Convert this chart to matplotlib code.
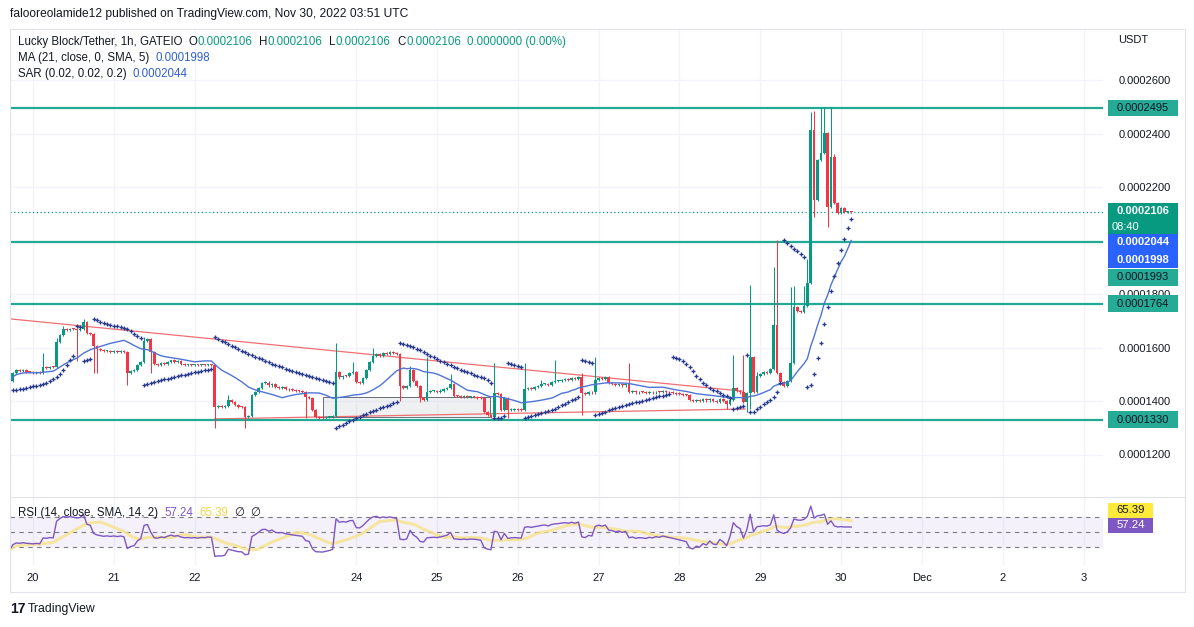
import numpy as np
import pandas as pd
import matplotlib
matplotlib.use("Agg")
import matplotlib.pyplot as plt
from matplotlib.patches import Rectangle

plt.rcParams['font.family'] = ['Liberation Sans', 'DejaVu Sans']

W, H = 1194, 627

# ---------------- data (prices in units of 0.000001 USDT) ----------------
first_hour = -7            # hours after Nov 20 00:00 UTC of the first candle
first_open = 145.5
closes = [
    147.5, 150.5, 151.5, 151.2, 151.5, 151.0, 150.8,                      # -7..-1
    150.5, 150.7, 150.4, 152.7, 152.5, 152.8, 152.6, 162.0, 164.7, 166.8,  # 0..9
    166.5, 167.0, 166.8, 166.5, 166.9, 169.5, 165.5, 165.0, 160.5, 159.5,  # 10..19
    159.0, 158.6, 158.8, 158.5, 158.7, 158.4, 158.6, 158.3, 150.5, 151.3,  # 20..29
    151.6, 153.5, 154.5, 162.5, 163.2, 158.3, 153.8, 153.5, 154.2, 153.8,  # 30..39
    154.6, 155.2, 154.5, 154.8, 153.9, 153.5, 153.6, 153.4, 153.5, 153.3,  # 40..49
    153.5, 153.4, 153.6, 153.5, 137.8, 138.0, 137.9, 138.2, 140.4, 139.5,  # 50..59
    138.6, 137.8, 137.6, 134.2, 134.4, 142.2, 143.4, 144.9, 146.7, 146.9,  # 60..69
    145.8, 146.5, 145.2, 145.0, 145.1, 144.5, 144.3, 144.0, 143.8, 143.6,  # 70..79
    143.4, 141.5, 141.2, 136.6, 134.0, 133.8, 133.7, 133.9, 134.1, 134.4,  # 80..89
    150.8, 148.8, 149.5, 149.2, 150.5, 150.8, 147.0, 146.8, 148.6, 151.5,  # 90..99
    154.6, 157.0, 157.5, 156.8, 157.8, 157.5, 158.2, 157.9, 157.6, 145.5,  # 100..109
    145.0, 145.5, 151.5, 147.5, 145.5, 141.1, 140.4, 143.4, 143.6, 143.8,  # 110..119
    143.5, 143.9, 144.4, 144.9, 146.5, 142.0, 141.8, 141.5, 141.7, 141.4,  # 120..129
    141.6, 141.5, 141.3, 141.0, 136.0, 134.8, 134.2, 143.0, 142.5, 136.6,  # 130..139
    141.0, 136.5, 136.8, 137.0, 136.8, 136.6, 144.5, 145.0, 144.6, 145.2,  # 140..149
    145.6, 146.2, 146.5, 146.0, 147.0, 147.4, 147.6, 147.9, 148.2, 148.0,  # 150..159
    148.5, 148.2, 148.8, 143.0, 142.6, 143.5, 143.2, 147.9, 148.6, 148.2,  # 160..169
    148.8, 146.7, 146.5, 146.0, 146.3, 145.8, 146.2, 143.5, 143.8, 143.2,  # 170..179
    143.4, 143.3, 143.1, 143.4, 143.2, 143.5, 143.3, 143.6, 143.4, 143.2,  # 180..189
    143.0, 142.8, 142.6, 142.4, 142.2, 140.4, 140.0, 140.4, 140.1, 140.6,  # 190..199
    140.2, 140.8, 140.0, 139.8, 140.6, 140.0, 138.8, 140.5, 144.9, 143.8,  # 200..209
    143.2, 139.6, 143.0, 156.5, 143.5, 149.5, 150.2, 150.8, 150.5, 152.0,  # 210..219
    168.4, 150.5, 147.2, 145.5, 147.5, 154.2, 175.1, 173.5, 173.2, 175.5,  # 220..229
    184.1, 241.3, 215.1, 230.1, 232.7, 240.2, 212.5, 231.2, 214.0, 210.3,  # 230..239
    212.0, 210.6, 210.8, 210.6,                                            # 240..243
]
wick_highs = {3: 158.0, 7: 163.5, 9: 168.0, 15: 170.5, 33: 163.9, 41: 155.5,
              58: 142.2, 90: 161.7, 95: 154.6, 101: 159.8, 112: 153.0,
              117: 156.4, 124: 150.0, 137: 154.2, 146: 154.2, 151: 148.0,
              155: 155.3, 163: 150.5, 167: 156.4, 177: 154.2, 208: 157.2,
              211: 157.2, 213: 183.4, 215: 151.0, 220: 190.1, 221: 200.2,
              225: 182.6, 226: 183.0, 229: 183.0, 230: 193.0, 231: 248.0,
              232: 248.3, 234: 249.9, 235: 249.9, 237: 249.9, 238: 232.5}
wick_lows = {-7: 144.0, 13: 155.0, 18: 150.5, 19: 150.5, 28: 146.0, 35: 150.5,
             54: 129.9, 63: 129.9, 81: 133.6, 109: 140.0, 115: 139.6,
             141: 133.5, 163: 134.8, 206: 137.0, 212: 135.9, 213: 137.0,
             232: 208.8, 236: 205.0}

levels = [249.5, 199.3, 176.4, 133.0]
level_texts = ['0.0002495', '0.0001993', '0.0001764', '0.0001330']
last_price = 210.6
last_price_text = '0.0002106'
countdown_text = '08:40'
sar_value, sar_value_text = 204.4, '0.0002044'
ma_value, ma_value_text = 199.8, '0.0001998'
upper_trend_t, upper_trend_p = [-6.8, 210.6], [170.7, 143.7]
lower_trend_t, lower_trend_p = [54.0, 211.5], [133.3, 137.0]
box_t, box_p = [86.1, 135.7], [134.0, 141.5]

price_ticks = [120, 140, 160, 180, 220, 240, 260]
price_grid = [120, 140, 160, 180, 200, 220, 240, 260]
day_labels = ['20', '21', '22', '24', '25', '26', '27', '28', '29', '30', 'Dec', '2', '3']
day_hours = [0, 24, 48, 96, 120, 144, 168, 192, 216, 240, 264, 288, 312]
rsi_levels = [70, 50, 30]
rsi_values = [57.24, 65.39]
rsi_texts = ['57.24', '65.39']
rsi_seed_gain, rsi_seed_loss = 0.4, 1.6   # averages carried in from before the window

# ---------------- derived series ----------------
n = len(closes)
hours = first_hour + np.arange(n)
c = np.array(closes, float)
o = np.empty(n); o[0] = first_open; o[1:] = c[:-1]
hi = np.maximum(o, c) + 0.4
lo = np.minimum(o, c) - 0.4
for k, v in wick_highs.items():
    hi[k - first_hour] = v
for k, v in wick_lows.items():
    lo[k - first_hour] = v

ma = pd.Series(c).rolling(21, min_periods=1).mean().values


def parabolic_sar(hi, lo, af0=0.02, step=0.02, afmax=0.2):
    m = len(hi)
    out = np.full(m, np.nan)
    up = False
    s = hi[0]
    ep = lo[0]
    af = af0
    out[0] = s
    for i in range(1, m):
        s = s + af * (ep - s)
        if up:
            s = min(s, lo[i - 1], lo[max(i - 2, 0)])
            if lo[i] < s:
                up = False; s = ep; ep = lo[i]; af = af0
            elif hi[i] > ep:
                ep = hi[i]; af = min(af + step, afmax)
        else:
            s = max(s, hi[i - 1], hi[max(i - 2, 0)])
            if hi[i] > s:
                up = True; s = ep; ep = hi[i]; af = af0
            elif lo[i] < ep:
                ep = lo[i]; af = min(af + step, afmax)
        out[i] = s
    return out


sar = parabolic_sar(hi, lo)

# RSI (Wilder) with carried-in averages
ag, al = rsi_seed_gain, rsi_seed_loss
prev = first_open
rsi = np.empty(n)
for i in range(n):
    d = c[i] - prev
    prev = c[i]
    ag = (ag * 13 + max(d, 0)) / 14
    al = (al * 13 + max(-d, 0)) / 14
    rsi[i] = 100 - 100 / (1 + ag / al) if al > 0 else 100
rsi_ma = pd.Series(rsi).rolling(14, min_periods=1).mean().values

# ---------------- figure ----------------
fig = plt.figure(figsize=(W / 100, H / 100), dpi=100)
fig.patch.set_facecolor('white')

def fx(px):
    return px / W

def fy(py):
    return 1 - py / H

L, R = 10, 1103
TOP, MID, BOT = 30, 497, 565
ax = fig.add_axes([fx(L), fy(MID), fx(R - L), (MID - TOP) / H])
axr = fig.add_axes([fx(L), fy(BOT), fx(R - L), (BOT - MID) / H], sharex=ax)

px_per_hour = 3.367
x0 = (L - 33) / px_per_hour
x1 = (R - 33) / px_per_hour
ax.set_xlim(x0, x1)
ax.set_ylim(260 - (MID - 80) / 2.675, 260 + (80 - TOP) / 2.675)
axr.set_ylim(30 - (BOT - 547.3) / 0.75, 70 + (517.3 - MID) / 0.75)

GRID = '#f0f3fa'
DARK = '#131722'
TEAL = '#089981'
LINE_TEAL = '#22ab94'
RED = '#f23645'

for a in (ax, axr):
    for sp in a.spines.values():
        sp.set_visible(False)
    for h_ in day_hours:
        a.axvline(h_, color=GRID, lw=0.9, zorder=0)
for p in price_grid:
    ax.axhline(p, color=GRID, lw=0.9, zorder=0)

# trend lines & box
ax.plot(upper_trend_t, upper_trend_p, color='#ef6f73', lw=0.9, zorder=2)
ax.plot(lower_trend_t, lower_trend_p, color='#ef6f73', lw=0.9, zorder=2)
ax.add_patch(Rectangle((box_t[0], box_p[0]), box_t[1] - box_t[0], box_p[1] - box_p[0],
                       fc='#d1d4dc', alpha=0.35, ec='none', zorder=1))
ax.add_patch(Rectangle((box_t[0], box_p[0]), box_t[1] - box_t[0], box_p[1] - box_p[0],
                       fill=False, ec='#6a6d78', lw=0.7, zorder=2))

# horizontal levels
for lv in levels:
    ax.axhline(lv, color=LINE_TEAL, lw=1.6, zorder=2)
ax.axhline(last_price, color=TEAL, lw=0.9, ls=(0, (1, 2)), zorder=2)

# candles
up = c >= o
cols = np.where(up, TEAL, RED)
ax.vlines(hours, lo, hi, colors=cols, lw=0.75, zorder=4)
body_b = np.minimum(o, c)
body_h = np.maximum(np.abs(c - o), 0.35)
ax.bar(hours, body_h, bottom=body_b, width=0.8, color=cols, lw=0, zorder=5)

# MA and SAR
ax.plot(hours, ma, color='#4f74d6', lw=1.0, zorder=6)
ax.plot(hours, sar, ls='none', marker='+', ms=2.6, mew=0.95, color='#27398c', zorder=6)

# y axis (right)
ax.yaxis.tick_right()
ax.set_yticks(price_ticks)
ax.set_yticklabels(['0.000%04d' % (p * 10) for p in price_ticks])
ax.tick_params(axis='y', length=0, pad=11, labelsize=8, labelcolor=DARK)
ax.tick_params(axis='x', length=0, labelbottom=False)

# RSI pane
axr.fill_between([x0, x1], 30, 70, color='#7e57c2', alpha=0.08, lw=0, zorder=0)
for lv in rsi_levels:
    axr.axhline(lv, color='#787b86', lw=0.8, ls=(0, (4, 4)), zorder=1)
axr.plot(hours, rsi_ma, color='#f7e38a', lw=2.2, alpha=0.8, zorder=2)
axr.plot(hours, rsi, color='#7e57c2', lw=1.0, zorder=3)
axr.set_yticks([])
axr.set_xticks(day_hours)
axr.set_xticklabels(day_labels)
axr.tick_params(axis='x', length=0, pad=6, labelsize=8, labelcolor=DARK)

# frame lines
fig.add_artist(Rectangle((fx(10), fy(592)), fx(1175), (592 - 29) / H, transform=fig.transFigure,
                         fill=False, ec='#e0e3eb', lw=0.8))
fig.add_artist(plt.Line2D([fx(10), fx(1185)], [fy(MID), fy(MID)], transform=fig.transFigure,
                          color='#e0e3eb', lw=0.8))

# text helpers
renderer = fig.canvas.get_renderer()

def pieces(x_px, y_px, items, size=8.3):
    x = x_px
    for s, col, gap in items:
        x += gap
        t = fig.text(fx(x), fy(y_px), s, color=col, fontsize=size, va='center', ha='left')
        x += t.get_window_extent(renderer=renderer).width

fig.text(fx(10), fy(14), 'falooreolamide12 published on TradingView.com, Nov 30, 2022 03:51 UTC',
         color=DARK, fontsize=8.65, va='center', ha='left')
val = last_price_text
pieces(18, 42, [('Lucky Block/Tether, 1h, GATEIO', DARK, 0), ('O', DARK, 6), (val, TEAL, 0),
                ('H', DARK, 7), (val, TEAL, 0), ('L', DARK, 7), (val, TEAL, 0),
                ('C', DARK, 7), (val, TEAL, 0), ('0.0000000 (0.00%)', TEAL, 6)])
pieces(18, 58, [('MA (21, close, 0, SMA, 5)', DARK, 0), (ma_value_text, '#2f5fd0', 6)])
pieces(18, 74, [('SAR (0.02, 0.02, 0.2)', DARK, 0), (sar_value_text, '#2f5fd0', 6)])
pieces(18, 513, [('RSI (14, close, SMA, 14, 2)', DARK, 0), (rsi_texts[0], '#7e57c2', 6),
                 (rsi_texts[1], '#f0d64a', 6), ('∅', DARK, 6), ('∅', DARK, 6)])
fig.text(fx(1118), fy(40), 'USDT', color=DARK, fontsize=8, va='center', ha='left')

# price labels on the axis
def ypix(p):
    return H - ax.transData.transform((0, p))[1]

def price_box(p, text, fc, tc, shift=0, h=16.5, w=70, bold=False, extra=None):
    yc = ypix(p) + shift
    hh = h if extra is None else 2 * h - 1
    top = yc - h / 2
    fig.add_artist(Rectangle((fx(1108), fy(top + hh)), fx(w), hh / H, transform=fig.transFigure,
                             fc=fc, ec='none', zorder=5))
    fig.text(fx(1108 + w / 2), fy(yc), text, color=tc, fontsize=8, ha='center', va='center',
             fontweight='bold' if bold else 'normal', zorder=6)
    if extra:
        fig.text(fx(1112), fy(yc + h - 1), extra, color=tc, fontsize=8, ha='left', va='center', zorder=6)

price_box(levels[0], level_texts[0], '#26ab96', DARK)
price_box(levels[2], level_texts[2], '#26ab96', DARK)
price_box(levels[3], level_texts[3], '#26ab96', DARK)
price_box(levels[1], level_texts[1], '#26ab96', DARK, shift=35)
price_box(last_price, last_price_text, TEAL, 'white', shift=-1, bold=True, extra=countdown_text)
price_box(sar_value, sar_value_text, '#2962ff', 'white', shift=13.5, bold=True, h=17)
price_box(ma_value, ma_value_text, '#2962ff', 'white', shift=18.5, bold=True, h=17)

# RSI labels
def rsi_box(y_center, text, fc, tc):
    fig.add_artist(Rectangle((fx(1108), fy(y_center + 7.5)), fx(45), 15 / H, transform=fig.transFigure,
                             fc=fc, ec='none', zorder=5))
    fig.text(fx(1130.5), fy(y_center), text, color=tc, fontsize=8.2, ha='center', va='center', zorder=6)

def rpix(v):
    return H - axr.transData.transform((0, v))[1]

rsi_box(rpix(rsi_values[1]) - 10.5, rsi_texts[1], '#ffe93b', DARK)
rsi_box(rpix(rsi_values[0]) - 1.5, rsi_texts[0], '#7e57c2', 'white')

# footer
fig.text(fx(10), fy(609), '17', color=DARK, fontsize=10, fontweight='bold', va='center', ha='left')
fig.text(fx(28), fy(609), 'TradingView', color=DARK, fontsize=8.8, va='center', ha='left')

fig.savefig('out.png', dpi=100, facecolor='white')
